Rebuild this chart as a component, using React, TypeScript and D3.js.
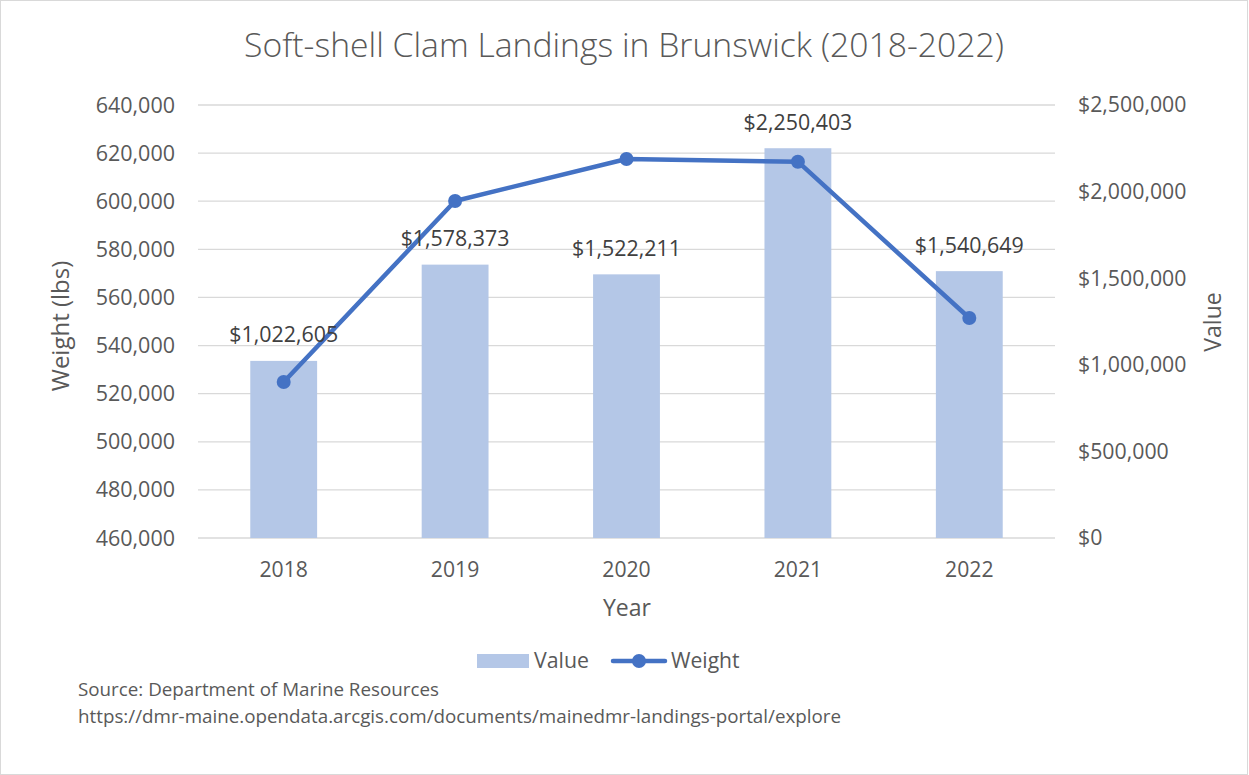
import React, { useEffect, useRef } from 'react';
import * as d3 from 'd3';

const years = ['2018', '2019', '2020', '2021', '2022'];
const valueDollars = [1022605, 1578373, 1522211, 2250403, 1540649];
const weightLbs = [524850, 600090, 617550, 616430, 551450];
const leftTicks = [460000, 480000, 500000, 520000, 540000, 560000, 580000, 600000, 620000, 640000];
const rightTicks = [0, 500000, 1000000, 1500000, 2000000, 2500000];

const W = 1249;
const H = 775;
const FONT = "'Open Sans', sans-serif";

const App = () => {
  const ref = useRef<SVGSVGElement>(null);

  useEffect(() => {
    const svg = d3.select(ref.current);
    svg.selectAll('*').remove();

    const left = 198;
    const right = 1055;
    const top = 105;
    const bottom = 538;

    const x = d3.scaleBand().domain(years).range([left, right]).paddingInner(0.61).paddingOuter(0.305);
    const yL = d3.scaleLinear().domain([460000, 640000]).range([bottom, top]);
    const yR = d3.scaleLinear().domain([0, 2500000]).range([bottom, top]);
    const cx = (d: string) => (x(d) as number) + x.bandwidth() / 2;

    // frame
    svg.append('rect')
      .attr('x', 0.5).attr('y', 0.5)
      .attr('width', W - 2).attr('height', H - 1)
      .attr('fill', '#fff').attr('stroke', '#d9d9d9');

    // title
    svg.append('text')
      .attr('x', 624).attr('y', 57)
      .attr('text-anchor', 'middle')
      .attr('font-family', FONT).attr('font-size', 33.7).attr('font-weight', 300)
      .attr('fill', '#595959')
      .text('Soft-shell Clam Landings in Brunswick (2018-2022)');

    // gridlines
    svg.append('g').selectAll('line').data(leftTicks).enter().append('line')
      .attr('x1', left).attr('x2', right)
      .attr('y1', (d) => yL(d)).attr('y2', (d) => yL(d))
      .attr('stroke', '#d9d9d9').attr('stroke-width', 1.3);

    // left axis labels
    svg.append('g').selectAll('text').data(leftTicks).enter().append('text')
      .attr('x', 175).attr('y', (d) => yL(d)).attr('dy', '0.35em')
      .attr('text-anchor', 'end')
      .attr('font-family', FONT).attr('font-size', 21.5).attr('fill', '#595959')
      .text((d) => d3.format(',')(d));

    // right axis labels
    svg.append('g').selectAll('text').data(rightTicks).enter().append('text')
      .attr('x', 1078).attr('y', (d) => yR(d)).attr('dy', '0.35em')
      .attr('text-anchor', 'start')
      .attr('font-family', FONT).attr('font-size', 21.3).attr('fill', '#595959')
      .text((d) => '$' + d3.format(',')(d));

    // x axis labels
    svg.append('g').selectAll('text').data(years).enter().append('text')
      .attr('x', (d) => cx(d)).attr('y', 570).attr('dy', '0.35em')
      .attr('text-anchor', 'middle')
      .attr('font-family', FONT).attr('font-size', 21.2).attr('fill', '#595959')
      .text((d) => d);

    // axis titles
    svg.append('text')
      .attr('x', 627).attr('y', 608).attr('dy', '0.35em')
      .attr('text-anchor', 'middle')
      .attr('font-family', FONT).attr('font-size', 23).attr('fill', '#595959')
      .text('Year');
    svg.append('text')
      .attr('transform', 'translate(61,326) rotate(-90)')
      .attr('dy', '0.35em').attr('text-anchor', 'middle')
      .attr('font-family', FONT).attr('font-size', 24).attr('fill', '#595959')
      .text('Weight (lbs)');
    svg.append('text')
      .attr('transform', 'translate(1213,322) rotate(-90)')
      .attr('dy', '0.35em').attr('text-anchor', 'middle')
      .attr('font-family', FONT).attr('font-size', 23).attr('fill', '#595959')
      .text('Value');

    // bars
    svg.append('g').selectAll('rect').data(years).enter().append('rect')
      .attr('x', (d) => x(d) as number)
      .attr('y', (d, i) => yR(valueDollars[i]))
      .attr('width', x.bandwidth())
      .attr('height', (d, i) => bottom - yR(valueDollars[i]))
      .attr('fill', '#b4c7e7');

    // line
    const line = d3.line<string>()
      .x((d) => cx(d))
      .y((d, i) => yL(weightLbs[i]));
    svg.append('path')
      .datum(years)
      .attr('d', line)
      .attr('fill', 'none')
      .attr('stroke', '#4472c4')
      .attr('stroke-width', 4.5)
      .attr('stroke-linejoin', 'round');
    svg.append('g').selectAll('circle').data(years).enter().append('circle')
      .attr('cx', (d) => cx(d))
      .attr('cy', (d, i) => yL(weightLbs[i]))
      .attr('r', 7)
      .attr('fill', '#4472c4');

    // data labels
    svg.append('g').selectAll('text').data(years).enter().append('text')
      .attr('x', (d) => cx(d))
      .attr('y', (d, i) => yR(valueDollars[i]) - 26).attr('dy', '0.35em')
      .attr('text-anchor', 'middle')
      .attr('font-family', FONT).attr('font-size', 21.4).attr('fill', '#404040')
      .text((d, i) => '$' + d3.format(',')(valueDollars[i]));

    // legend
    const lg = svg.append('g');
    lg.append('rect').attr('x', 477).attr('y', 654).attr('width', 52).attr('height', 14).attr('fill', '#b4c7e7');
    lg.append('text').attr('x', 534).attr('y', 661).attr('dy', '0.35em')
      .attr('font-family', FONT).attr('font-size', 21.3).attr('fill', '#595959').text('Value');
    lg.append('line').attr('x1', 613).attr('x2', 665).attr('y1', 661).attr('y2', 661)
      .attr('stroke', '#4472c4').attr('stroke-width', 4.5).attr('stroke-linecap', 'round');
    lg.append('circle').attr('cx', 639).attr('cy', 661).attr('r', 7).attr('fill', '#4472c4');
    lg.append('text').attr('x', 671).attr('y', 661).attr('dy', '0.35em')
      .attr('font-family', FONT).attr('font-size', 21.1).attr('fill', '#595959').text('Weight');

    // source
    svg.append('text').attr('x', 78).attr('y', 689).attr('dy', '0.35em')
      .attr('font-family', FONT).attr('font-size', 18.8).attr('fill', '#595959')
      .text('Source: Department of Marine Resources');
    svg.append('text').attr('x', 78).attr('y', 716).attr('dy', '0.35em')
      .attr('font-family', FONT).attr('font-size', 18.8).attr('fill', '#595959')
      .text('https://dmr-maine.opendata.arcgis.com/documents/mainedmr-landings-portal/explore');
  }, []);

  return (
    <svg ref={ref} width={W} height={H} style={{ display: 'block', position: 'absolute', left: 0, top: 0 }} />
  );
};

export default App;
